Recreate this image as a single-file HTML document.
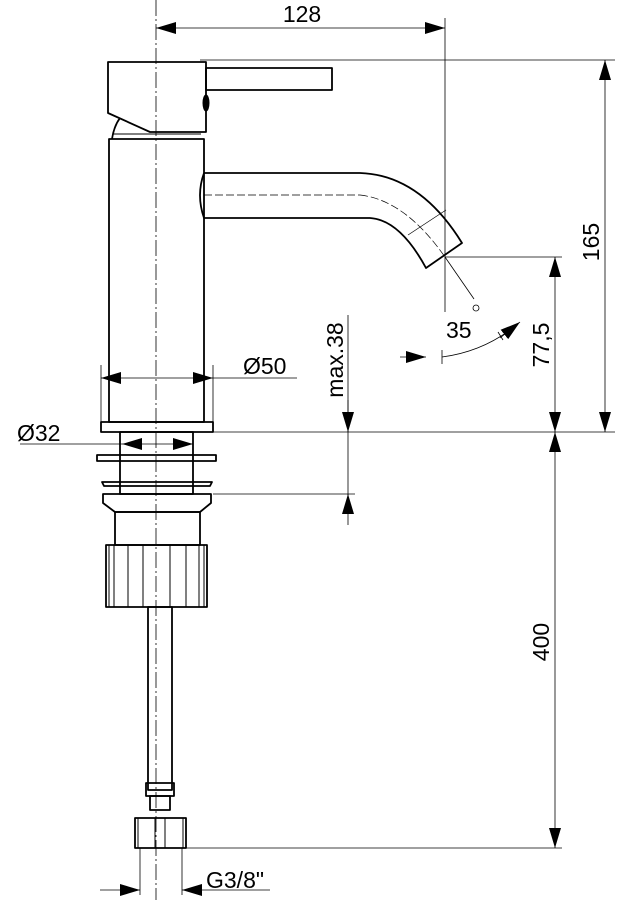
<!DOCTYPE html>
<html><head><style>html,body{margin:0;padding:0;background:#fff}</style></head>
<body>
<svg width="633" height="907" viewBox="0 0 633 907" xmlns="http://www.w3.org/2000/svg" font-family="Liberation Sans, Arial, sans-serif">
<defs>
<marker id="a" viewBox="0 0 20 12" refX="20" refY="6" markerWidth="20" markerHeight="12" markerUnits="userSpaceOnUse" orient="auto"><path d="M0,0L20,6L0,12z" fill="#000"/></marker>
</defs>
<g stroke="#000" fill="none">
<line x1="156" y1="0" x2="156" y2="900" stroke-width="0.8" stroke-dasharray="16,3,2,3"/>
<g stroke-width="0.8">
<line x1="200" y1="60" x2="615" y2="60"/>
<line x1="445" y1="18" x2="445" y2="312"/>
<line x1="445" y1="257" x2="562" y2="257"/>
<line x1="445" y1="257" x2="474" y2="299"/>
<line x1="213" y1="432" x2="615" y2="432"/>
<line x1="213" y1="494" x2="355" y2="494"/>
<line x1="186" y1="848" x2="562" y2="848"/>
<line x1="101" y1="365" x2="101" y2="422"/>
<line x1="213" y1="365" x2="213" y2="422"/>
<line x1="140" y1="848" x2="140" y2="895"/>
<line x1="182" y1="848" x2="182" y2="895"/>
<line x1="348" y1="315" x2="348" y2="505"/>
<path d="M442,357 Q480,352 510,330"/>
<line x1="442" y1="350" x2="442" y2="364"/>
<line x1="498" y1="332" x2="503" y2="340"/>
</g>
<g stroke-width="0.8">
<line x1="300" y1="28" x2="156" y2="28" marker-end="url(#a)"/>
<line x1="300" y1="28" x2="445" y2="28" marker-end="url(#a)"/>
<line x1="605" y1="240" x2="605" y2="60" marker-end="url(#a)"/>
<line x1="605" y1="240" x2="605" y2="432" marker-end="url(#a)"/>
<line x1="555" y1="340" x2="555" y2="257" marker-end="url(#a)"/>
<line x1="555" y1="340" x2="555" y2="432" marker-end="url(#a)"/>
<line x1="555" y1="640" x2="555" y2="432" marker-end="url(#a)"/>
<line x1="555" y1="640" x2="555" y2="848" marker-end="url(#a)"/>
<line x1="156" y1="378" x2="101" y2="378" marker-end="url(#a)"/>
<line x1="156" y1="378" x2="213" y2="378" marker-end="url(#a)"/>
<line x1="213" y1="378" x2="297" y2="378"/>
<line x1="20" y1="444" x2="122" y2="444"/>
<line x1="156" y1="444" x2="122" y2="444" marker-end="url(#a)"/>
<line x1="156" y1="444" x2="193" y2="444" marker-end="url(#a)"/>
<line x1="348" y1="400" x2="348" y2="432" marker-end="url(#a)"/>
<line x1="348" y1="525" x2="348" y2="494" marker-end="url(#a)"/>
<line x1="100" y1="890" x2="140" y2="890" marker-end="url(#a)"/>
<line x1="270" y1="890" x2="182" y2="890" marker-end="url(#a)"/>
<line x1="400" y1="357" x2="426" y2="357" marker-end="url(#a)"/>
<line x1="500" y1="338" x2="520" y2="322" marker-end="url(#a)"/>
</g>
<circle cx="476" cy="308" r="3" stroke-width="0.8"/>
<g stroke-width="1.8" stroke-linejoin="round">
<path d="M108,62 L206,62 L206,132 L150,132 L108,113 Z"/>
<rect x="206" y="68" width="126" height="22"/>
<path d="M112,139 Q114,126 120,118"/>
<line x1="113" y1="134" x2="201" y2="134" stroke-width="1"/>
<rect x="109" y="139" width="95" height="283"/>
<path d="M204,173 L360,173 Q420,175 462,243 L426,268 Q400,220 370,218 L204,218 Q196,195 204,173"/>
<rect x="101" y="422" width="112" height="10"/>
<rect x="120" y="432" width="73" height="62"/>
<rect x="97" y="455" width="119" height="6"/>
<path d="M102,482 L212,482 L210,486 L104,486 Z"/>
<path d="M103,494 L211,494 L211,503 L200,512 L115,512 L103,503 Z"/>
<rect x="115" y="512" width="85" height="33"/>
<rect x="106" y="545" width="101" height="62"/>
<rect x="148" y="607" width="24" height="183"/>
<rect x="146" y="783" width="28" height="13"/>
<rect x="150" y="796" width="20" height="14"/>
<rect x="135" y="818" width="51" height="30"/>
</g>
<ellipse cx="206" cy="103" rx="3" ry="8" fill="#000"/>
<g stroke-width="1">
<line x1="109" y1="545" x2="109" y2="607"/><line x1="114" y1="545" x2="114" y2="607"/>
<line x1="128" y1="545" x2="128" y2="607"/><line x1="143" y1="545" x2="143" y2="607"/>
<line x1="170" y1="545" x2="170" y2="607"/><line x1="186" y1="545" x2="186" y2="607"/>
<line x1="199" y1="545" x2="199" y2="607"/><line x1="204" y1="545" x2="204" y2="607"/>
<line x1="155" y1="818" x2="155" y2="848"/><line x1="165" y1="818" x2="165" y2="848"/>
<line x1="138" y1="818" x2="138" y2="848"/><line x1="183" y1="818" x2="183" y2="848"/>
<line x1="204" y1="195" x2="360" y2="195" stroke-dasharray="8,3" stroke-width="0.7"/>
<path d="M360,195 Q405,200 445,257" stroke-dasharray="8,3" stroke-width="0.7"/>
<line x1="408" y1="235" x2="446" y2="210" stroke-width="0.7"/>
</g>
</g>
<g fill="#000" font-size="23">
<text x="302" y="22" text-anchor="middle">128</text>
<text x="243" y="374">Ø50</text>
<text x="17" y="441">Ø32</text>
<text x="206" y="888">G3/8"</text>
<text x="446" y="338">35</text>
<text transform="translate(599,242) rotate(-90)" text-anchor="middle">165</text>
<text transform="translate(549,345) rotate(-90)" text-anchor="middle">77,5</text>
<text transform="translate(549,642) rotate(-90)" text-anchor="middle">400</text>
<text transform="translate(343,360) rotate(-90)" text-anchor="middle">max.38</text>
</g>
</svg>
</body></html>
